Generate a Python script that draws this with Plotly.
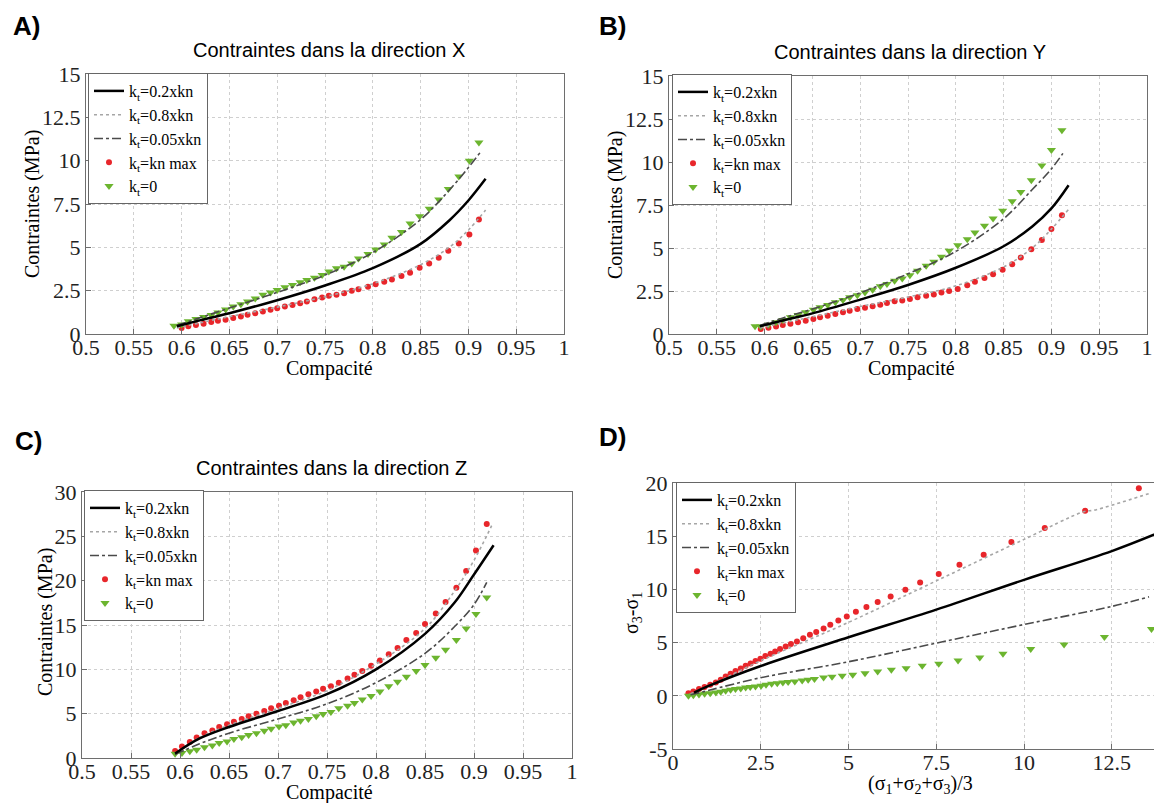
import plotly.graph_objects as go

W, H = 1162, 803
OFF = 8  # page body margin of the written html

# ---------------- Panel A : direction X ----------------
A_line_x = [0.595, 0.62, 0.65, 0.70, 0.75, 0.80, 0.85, 0.88, 0.90, 0.918]
A_k02 = [0.45, 0.8, 1.2, 1.95, 2.8, 3.8, 5.2, 6.55, 7.7, 8.95]
A_k08 = [0.35, 0.65, 1.0, 1.55, 2.15, 2.9, 4.0, 5.0, 6.0, 7.15]
A_k005_x = [0.595, 0.62, 0.65, 0.70, 0.75, 0.80, 0.85, 0.88, 0.90, 0.912]
A_k005 = [0.5, 0.95, 1.5, 2.4, 3.4, 4.7, 6.6, 8.3, 9.6, 10.45]
A_red_x = [0.600, 0.607, 0.615, 0.623, 0.631, 0.638, 0.646, 0.654, 0.662, 0.669, 0.677, 0.685, 0.693,
           0.700, 0.708, 0.716, 0.724, 0.731, 0.739, 0.747, 0.754, 0.762, 0.770, 0.778, 0.785, 0.795,
           0.803, 0.812, 0.820, 0.830, 0.839, 0.849, 0.859, 0.869, 0.879, 0.890, 0.901, 0.911]
A_red_y = [0.34, 0.44, 0.52, 0.59, 0.69, 0.76, 0.82, 0.92, 1.01, 1.11, 1.2, 1.3, 1.4, 1.49, 1.59,
           1.68, 1.78, 1.87, 2.0, 2.1, 2.2, 2.26, 2.35, 2.49, 2.58, 2.73, 2.87, 3.02, 3.15, 3.35,
           3.54, 3.82, 4.07, 4.40, 4.8, 5.22, 5.74, 6.6]
A_green_x = [0.592, 0.600, 0.607, 0.615, 0.623, 0.631, 0.638, 0.646, 0.654, 0.662, 0.669, 0.677, 0.685,
             0.693, 0.700, 0.708, 0.716, 0.724, 0.731, 0.739, 0.747, 0.754, 0.762, 0.770, 0.778, 0.785,
             0.795, 0.803, 0.812, 0.820, 0.830, 0.839, 0.849, 0.859, 0.869, 0.879, 0.890, 0.901, 0.911]
A_green_y = [0.48, 0.55, 0.73, 0.86, 0.98, 1.1, 1.24, 1.42, 1.59, 1.72, 1.87, 2.05, 2.26, 2.4, 2.54,
             2.7, 2.83, 2.98, 3.12, 3.25, 3.4, 3.6, 3.79, 3.88, 4.07, 4.36, 4.61, 4.88, 5.16, 5.56,
             5.89, 6.37, 6.79, 7.23, 7.76, 8.37, 9.08, 10.0, 11.05]

# ---------------- Panel B : direction Y ----------------
B_line_x = [0.595, 0.62, 0.65, 0.70, 0.75, 0.80, 0.85, 0.88, 0.90, 0.918]
B_k02 = [0.45, 0.8, 1.2, 2.0, 2.85, 3.85, 5.1, 6.25, 7.3, 8.65]
B_k08 = [0.35, 0.65, 1.0, 1.6, 2.15, 2.8, 3.9, 5.0, 6.1, 7.25]
B_k005_x = [0.595, 0.62, 0.65, 0.70, 0.75, 0.80, 0.85, 0.88, 0.90, 0.912]
B_k005 = [0.5, 0.95, 1.45, 2.4, 3.5, 4.8, 6.7, 8.4, 9.6, 10.5]
B_red_x = [0.596, 0.604, 0.612, 0.619, 0.627, 0.635, 0.643, 0.651, 0.658, 0.666, 0.674, 0.682, 0.689,
           0.697, 0.705, 0.713, 0.721, 0.728, 0.736, 0.744, 0.752, 0.760, 0.769, 0.777, 0.785, 0.793,
           0.802, 0.812, 0.820, 0.830, 0.839, 0.849, 0.859, 0.868, 0.879, 0.890, 0.900, 0.911]
B_red_y = [0.29, 0.37, 0.44, 0.52, 0.60, 0.68, 0.77, 0.87, 0.97, 1.06, 1.16, 1.26, 1.35, 1.45, 1.53,
           1.61, 1.70, 1.80, 1.90, 1.95, 2.03, 2.13, 2.22, 2.30, 2.42, 2.50, 2.61, 2.84, 3.04, 3.25,
           3.48, 3.73, 4.06, 4.45, 4.93, 5.47, 6.1, 6.9]
B_green_x = [0.590, 0.596, 0.604, 0.612, 0.619, 0.627, 0.635, 0.643, 0.651, 0.658, 0.666, 0.674, 0.682,
             0.689, 0.697, 0.705, 0.713, 0.721, 0.728, 0.736, 0.744, 0.752, 0.760, 0.769, 0.777, 0.785,
             0.793, 0.802, 0.812, 0.820, 0.830, 0.839, 0.849, 0.859, 0.868, 0.879, 0.890, 0.900, 0.911]
B_green_y = [0.45, 0.43, 0.54, 0.68, 0.81, 0.97, 1.10, 1.26, 1.41, 1.55, 1.68, 1.84, 1.97, 2.13, 2.26,
             2.42, 2.57, 2.77, 2.9, 3.09, 3.23, 3.42, 3.68, 3.97, 4.2, 4.49, 4.84, 5.16, 5.51, 5.9,
             6.29, 6.71, 7.16, 7.72, 8.26, 8.94, 9.8, 10.7, 11.84]

# ---------------- Panel C : direction Z ----------------
C_line_x = [0.595, 0.62, 0.65, 0.70, 0.75, 0.80, 0.85, 0.88, 0.90, 0.92]
C_k02 = [0.5, 2.2, 3.5, 5.3, 7.2, 10.0, 14.0, 17.5, 20.7, 24.0]
C_k08_x = [0.595, 0.62, 0.65, 0.70, 0.75, 0.80, 0.85, 0.88, 0.90, 0.918]
C_k08 = [0.5, 2.3, 3.7, 5.6, 7.6, 10.6, 14.6, 18.8, 22.3, 26.2]
C_k005_x = [0.595, 0.62, 0.65, 0.70, 0.75, 0.80, 0.85, 0.88, 0.90, 0.913]
C_k005 = [0.4, 1.6, 2.8, 4.4, 6.1, 8.5, 11.8, 14.8, 17.3, 19.8]
C_pts_x = [0.595, 0.602, 0.610, 0.617, 0.625, 0.633, 0.640, 0.648, 0.655, 0.663, 0.670, 0.678, 0.686,
           0.693, 0.701, 0.708, 0.716, 0.723, 0.731, 0.739, 0.746, 0.754, 0.762, 0.771, 0.778, 0.786,
           0.795, 0.804, 0.813, 0.822, 0.831, 0.841, 0.850, 0.861, 0.871, 0.882, 0.892, 0.902, 0.913]
C_red_y = [0.8, 1.3, 1.8, 2.3, 2.8, 3.1, 3.5, 3.8, 4.1, 4.4, 4.7, 5.0, 5.3, 5.6, 5.9, 6.2, 6.5, 6.85,
           7.2, 7.5, 7.8, 8.1, 8.5, 8.97, 9.4, 9.8, 10.4, 11.0, 11.7, 12.4, 13.3, 14.1, 15.1, 16.3,
           17.6, 19.2, 21.1, 23.4, 26.4]
C_green_y = [0.49, 0.56, 0.75, 0.93, 1.2, 1.42, 1.68, 1.87, 2.13, 2.35, 2.6, 2.8, 3.06, 3.3, 3.55,
             3.7, 4.0, 4.2, 4.4, 4.7, 4.97, 5.2, 5.6, 5.9, 6.2, 6.6, 7.0, 7.5, 8.1, 8.6, 9.15, 9.8,
             10.5, 11.3, 12.2, 13.3, 14.6, 16.25, 18.1]

# ---------------- Panel D : deviatoric vs mean stress ----------------
D_k02_x = [0.6, 1.0, 2.5, 5.0, 7.5, 10.0, 12.5, 13.93]
D_k02 = [0.3, 0.9, 2.8, 5.5, 8.1, 10.9, 13.6, 15.45]
D_k08_x = [0.5, 1.0, 2.5, 5.0, 7.5, 10.0, 11.7, 12.0, 13.55]
D_k08 = [0.2, 0.9, 3.3, 6.9, 10.8, 14.7, 17.3, 17.45, 19.0]
D_k005_x = [0.5, 1.0, 2.5, 5.0, 7.5, 10.0, 12.5, 13.56]
D_k005 = [0.1, 0.5, 1.7, 3.2, 4.95, 6.7, 8.4, 9.3]
D_red_x = [0.44, 0.58, 0.74, 0.90, 1.06, 1.22, 1.36, 1.50, 1.64, 1.78, 1.93, 2.07, 2.21, 2.35, 2.49,
           2.63, 2.78, 2.91, 3.05, 3.21, 3.36, 3.53, 3.71, 3.90, 4.08, 4.29, 4.48, 4.71, 4.95, 5.21,
           5.51, 5.83, 6.20, 6.62, 7.04, 7.57, 8.16, 8.85, 9.64, 10.59, 11.74, 13.27]
D_red_y = [0.25, 0.41, 0.63, 0.82, 1.03, 1.25, 1.50, 1.82, 2.07, 2.32, 2.57, 2.82, 3.04, 3.26, 3.48,
           3.73, 3.95, 4.17, 4.39, 4.64, 4.86, 5.11, 5.42, 5.74, 5.99, 6.33, 6.68, 7.08, 7.46, 7.90,
           8.34, 8.81, 9.34, 9.97, 10.66, 11.44, 12.32, 13.26, 14.45, 15.77, 17.4, 19.5]
D_green_x = [0.44, 0.58, 0.74, 0.90, 1.06, 1.22, 1.36, 1.50, 1.64, 1.78, 1.93, 2.07, 2.20, 2.35, 2.51,
             2.65, 2.81, 2.97, 3.13, 3.28, 3.47, 3.68, 3.85, 4.03, 4.29, 4.53, 4.82, 5.12, 5.47, 5.83,
             6.22, 6.64, 7.10, 7.57, 8.12, 8.74, 9.40, 10.19, 11.14, 12.29, 13.63]
D_green_y = [0.0, 0.06, 0.13, 0.19, 0.25, 0.31, 0.38, 0.47, 0.56, 0.63, 0.69, 0.78, 0.82, 0.88, 0.94,
             1.03, 1.13, 1.19, 1.25, 1.29, 1.35, 1.44, 1.5, 1.57, 1.72, 1.79, 1.88, 1.97, 2.13, 2.29,
             2.45, 2.6, 2.82, 3.01, 3.32, 3.6, 3.95, 4.39, 4.83, 5.52, 6.27]

# ---------------- Ticks / labels ----------------
comp_ticks = [0.5, 0.55, 0.6, 0.65, 0.7, 0.75, 0.8, 0.85, 0.9, 0.95, 1.0]
comp_text = ["0.5", "0.55", "0.6", "0.65", "0.7", "0.75", "0.8", "0.85", "0.9", "0.95", "1"]
xy_ticks = [0, 2.5, 5, 7.5, 10, 12.5, 15]
xy_text = ["0", "2.5", "5", "7.5", "10", "12.5", "15"]
z_ticks = [0, 5, 10, 15, 20, 25, 30]
z_text = ["0", "5", "10", "15", "20", "25", "30"]
d_xticks = [0, 2.5, 5, 7.5, 10, 12.5]
d_xtext = ["0", "2.5", "5", "7.5", "10", "12.5"]
d_yticks = [-5, 0, 5, 10, 15, 20]
d_ytext = ["-5", "0", "5", "10", "15", "20"]

names = ["k<sub>t</sub>=0.2xkn", "k<sub>t</sub>=0.8xkn", "k<sub>t</sub>=0.05xkn",
         "k<sub>t</sub>=kn max", "k<sub>t</sub>=0"]
panel_titles = ["Contraintes dans la direction X", "Contraintes dans la direction Y",
                "Contraintes dans la direction Z"]
letters = ["A)", "B)", "C)", "D)"]

RED = "#e8262b"
GREEN = "#6cb52f"
SERIF = "Liberation Serif"
SANS = "Liberation Sans"

fig = go.Figure()


def add_panel(xa, ya, leg, l02, l08, l005, red, green):
    # markers first (drawn under the lines); legend order via legendrank
    fig.add_trace(go.Scatter(x=red[0], y=red[1], mode="markers", name=names[3], legend=leg,
                             xaxis=xa, yaxis=ya, legendrank=4,
                             marker=dict(color=RED, size=6, symbol="circle")))
    fig.add_trace(go.Scatter(x=green[0], y=green[1], mode="markers", name=names[4], legend=leg,
                             xaxis=xa, yaxis=ya, legendrank=5,
                             marker=dict(color=GREEN, size=8, symbol="triangle-down")))
    fig.add_trace(go.Scatter(x=l08[0], y=l08[1], mode="lines", name=names[1], legend=leg,
                             xaxis=xa, yaxis=ya, legendrank=2,
                             line=dict(color="#a6a6a6", width=1.6, dash="dot", shape="spline")))
    fig.add_trace(go.Scatter(x=l005[0], y=l005[1], mode="lines", name=names[2], legend=leg,
                             xaxis=xa, yaxis=ya, legendrank=3,
                             line=dict(color="#4a4a4a", width=1.6, dash="dashdot", shape="spline")))
    fig.add_trace(go.Scatter(x=l02[0], y=l02[1], mode="lines", name=names[0], legend=leg,
                             xaxis=xa, yaxis=ya, legendrank=1,
                             line=dict(color="black", width=2.5, shape="spline")))


add_panel("x", "y", "legend", (A_line_x, A_k02), (A_line_x, A_k08), (A_k005_x, A_k005),
          (A_red_x, A_red_y), (A_green_x, A_green_y))
add_panel("x2", "y2", "legend2", (B_line_x, B_k02), (B_line_x, B_k08), (B_k005_x, B_k005),
          (B_red_x, B_red_y), (B_green_x, B_green_y))
add_panel("x3", "y3", "legend3", (C_line_x, C_k02), (C_k08_x, C_k08), (C_k005_x, C_k005),
          (C_pts_x, C_red_y), (C_pts_x, C_green_y))
add_panel("x4", "y4", "legend4", (D_k02_x, D_k02), (D_k08_x, D_k08), (D_k005_x, D_k005),
          (D_red_x, D_red_y), (D_green_x, D_green_y))


def px_x(p):
    return (p - OFF) / W


def px_y(p):
    return 1 - (p - OFF) / H


def axis(domain, rng, tv, tt, anchor, is_x):
    d = dict(domain=domain, range=rng, tickvals=tv, ticktext=tt, anchor=anchor,
             automargin=False,
             showgrid=True, gridcolor="#cfcfcf", griddash="dot", gridwidth=1,
             showline=True, linecolor="#6e6e6e", linewidth=1, mirror=True,
             ticks="inside", ticklen=5, tickcolor="#6e6e6e", zeroline=False,
             tickfont=dict(family=SERIF, size=22, color="#222"), fixedrange=True)
    if is_x:
        d["ticklabelstandoff"] = -6
    return d


def legend_at(xp, yp):
    return dict(x=px_x(xp), y=px_y(yp), xanchor="left", yanchor="top", bgcolor="white",
                bordercolor="#666", borderwidth=1, tracegroupgap=0, itemwidth=30,
                font=dict(family=SERIF, size=16, color="black"))


layout = dict(
    template="none",
    width=W, height=H, autosize=False, margin=dict(l=0, r=0, t=0, b=0, pad=0),
    paper_bgcolor="white", plot_bgcolor="white", showlegend=True,
    font=dict(family=SERIF, color="black"),
    xaxis=axis([px_x(86), px_x(564)], [0.5, 1.0], comp_ticks, comp_text, "y", True),
    yaxis=axis([px_y(334), px_y(74)], [0, 15], xy_ticks, xy_text, "x", False),
    xaxis2=axis([px_x(669), px_x(1147)], [0.5, 1.0], comp_ticks, comp_text, "y2", True),
    yaxis2=axis([px_y(334), px_y(76)], [0, 15], xy_ticks, xy_text, "x2", False),
    xaxis3=axis([px_x(82), px_x(572)], [0.5, 1.0], comp_ticks, comp_text, "y3", True),
    yaxis3=axis([px_y(758), px_y(492)], [0, 30], z_ticks, z_text, "x3", False),
    xaxis4=axis([px_x(673), px_x(1162)], [0, 13.93], d_xticks, d_xtext, "y4", True),
    yaxis4=axis([px_y(749), px_y(483)], [-5, 20], d_yticks, d_ytext, "x4", False),
    legend=legend_at(88, 73),
    legend2=legend_at(672, 74),
    legend3=legend_at(84, 490),
    legend4=legend_at(676, 482),
)
fig.update_layout(**layout)

ann = []
# panel letters
for txt, xp, yp in zip(letters, [11, 597, 13, 597], [26, 26, 441, 437]):
    ann.append(dict(text="<b>" + txt + "</b>", x=px_x(xp), y=px_y(yp), xref="paper", yref="paper",
                    xanchor="left", yanchor="middle", showarrow=False,
                    font=dict(family=SANS, size=26, color="black")))
# panel titles
for txt, xp, yp in zip(panel_titles, [329, 910, 331], [50, 52, 468]):
    ann.append(dict(text=txt, x=px_x(xp), y=px_y(yp), xref="paper", yref="paper",
                    xanchor="center", yanchor="middle", showarrow=False,
                    font=dict(family=SANS, size=20, color="black")))
# x-axis titles
for txt, xp, yp in zip(["Compacité", "Compacité", "Compacité",
                        "(σ<sub>1</sub>+σ<sub>2</sub>+σ<sub>3</sub>)/3"],
                       [329, 911, 329, 920], [368, 368, 792, 784]):
    ann.append(dict(text=txt, x=px_x(xp), y=px_y(yp), xref="paper", yref="paper",
                    xanchor="center", yanchor="middle", showarrow=False,
                    font=dict(family=SERIF, size=20, color="black")))
# y-axis titles
for txt, xp, yp in zip(["Contraintes (MPa)", "Contraintes (MPa)", "Contraintes (MPa)",
                        "σ<sub>3</sub>-σ<sub>1</sub>"],
                       [33, 616, 45, 632], [204, 205, 622, 613]):
    ann.append(dict(text=txt, x=px_x(xp), y=px_y(yp), xref="paper", yref="paper",
                    xanchor="center", yanchor="middle", showarrow=False, textangle=-90,
                    font=dict(family=SERIF, size=20, color="black")))
fig.update_layout(annotations=ann)

fig.write_html("out.html")
